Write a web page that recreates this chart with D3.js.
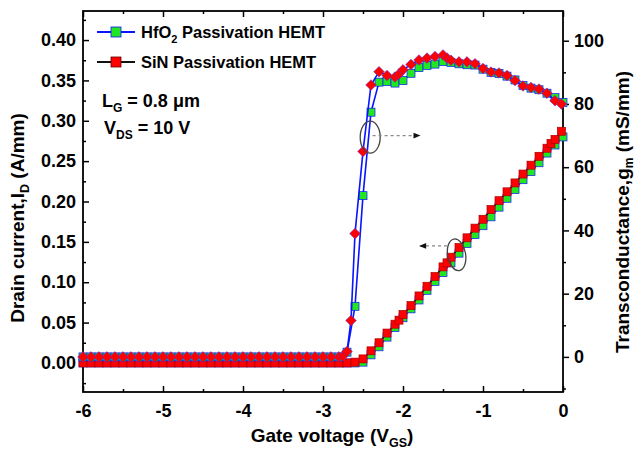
<!DOCTYPE html>
<html><head><meta charset="utf-8">
<script src="https://cdn.jsdelivr.net/npm/d3@7"></script>
<style>
html,body{margin:0;padding:0;background:#fff;}
svg{display:block;font-family:"Liberation Sans",Arial,sans-serif;font-weight:bold;}
</style></head>
<body><svg id="c" width="638" height="450"></svg>
<script>
// ---------- data ----------
const vgsOff = [-6.0,-5.9,-5.8,-5.7,-5.6,-5.5,-5.4,-5.3,-5.2,-5.1,-5.0,-4.9,-4.8,-4.7,-4.6,-4.5,-4.4,-4.3,-4.2,-4.1,-4.0,-3.9,-3.8,-3.7,-3.6,-3.5,-3.4,-3.3,-3.2,-3.1,-3.0,-2.9,-2.8];
const idOff  = [0,0,0,0,0,0,0,0,0,0,0,0,0,0,0,0,0,0,0,0,0,0,0,0,0,0,0,0,0,0,0,0,0];
const gmOff  = [0,0,0,0,0,0,0,0,0,0,0,0,0,0,0,0,0,0,0,0,0,0,0,0,0,0,0,0,0,0,0,0,0];

const vgsIdHfO2 = [-2.7,-2.6,-2.5,-2.4,-2.3,-2.2,-2.1,-2.0,-1.9,-1.8,-1.7,-1.6,-1.5,-1.4,-1.3,-1.2,-1.1,-1.0,-0.9,-0.8,-0.7,-0.6,-0.5,-0.4,-0.3,-0.2,-0.1,0.0];
const idHfO2    = [0.000,0.000,0.001,0.010,0.020,0.032,0.044,0.056,0.067,0.078,0.090,0.101,0.112,0.124,0.136,0.148,0.159,0.170,0.181,0.193,0.204,0.215,0.227,0.237,0.248,0.260,0.270,0.280];

const vgsIdSiN = [-2.7,-2.6,-2.5,-2.4,-2.3,-2.2,-2.1,-2.05,-2.0,-1.9,-1.8,-1.7,-1.6,-1.5,-1.45,-1.4,-1.3,-1.2,-1.1,-1.0,-0.9,-0.8,-0.7,-0.6,-0.5,-0.4,-0.3,-0.2,-0.15,-0.1,-0.02];
const idSiN    = [0.000,0.001,0.005,0.015,0.025,0.037,0.048,0.053,0.060,0.071,0.083,0.095,0.107,0.119,0.124,0.131,0.143,0.155,0.167,0.178,0.190,0.201,0.212,0.223,0.234,0.245,0.256,0.266,0.272,0.277,0.287];

const vgsGmHfO2 = [-2.7,-2.6,-2.5,-2.4,-2.3,-2.2,-2.1,-2.0,-1.9,-1.8,-1.7,-1.6,-1.5,-1.4,-1.3,-1.2,-1.1,-1.0,-0.9,-0.8,-0.7,-0.6,-0.5,-0.4,-0.3,-0.2,-0.1,0.0];
const gmHfO2    = [1.5,16,51,77.4,86.9,87.1,86.6,87.4,89.7,91.5,92.2,92.6,93.4,93.1,92.7,92.4,92.3,91.0,90.0,89.6,88.8,87.6,85.8,85.0,84.5,83.4,82.0,80.5];

const vgsGmSiN = [-2.75,-2.7,-2.65,-2.6,-2.5,-2.4,-2.3,-2.2,-2.1,-2.05,-2.0,-1.9,-1.8,-1.7,-1.6,-1.5,-1.45,-1.4,-1.3,-1.2,-1.1,-1.0,-0.9,-0.8,-0.7,-0.6,-0.5,-0.4,-0.3,-0.2,-0.1,-0.02];
const gmSiN    = [0.3,1.7,11.5,39,65,86,90.2,89.0,88.5,89.5,90.8,92.5,93.9,94.5,95.0,95.5,94.5,93.8,93.3,93.3,92.7,91.2,90.1,89.8,89.0,87.4,85.7,85.2,84.7,83.4,81.0,80.0];

const xTicks = [-6,-5,-4,-3,-2,-1,0];
const xMinor = [-5.5,-4.5,-3.5,-2.5,-1.5,-0.5];
const yLTicks = [0,0.05,0.10,0.15,0.20,0.25,0.30,0.35,0.40];
const yLMinor = [-0.025,0.025,0.075,0.125,0.175,0.225,0.275,0.325,0.375,0.425];
const yRTicks = [0,20,40,60,80,100];
const yRMinor = [-10,10,30,50,70,90];

// ---------- layout ----------
const L=83, R=563, T=11, B=392;
const svg = d3.select("#c");
const x  = d3.scaleLinear().domain([-6,0]).range([L,R]);
const yL = d3.scaleLinear().domain([-0.036,0.436]).range([B,T]);
const yR = d3.scaleLinear().domain([-11.1,109.4]).range([B,T]);

const BLUE="#0a14ff", GREEN="#22e622", RED="#ff0000";

function pairs(xs, ys){ return xs.map((v,i)=>[v, ys[i]]); }
const idHfO2All = pairs(vgsOff, idOff).concat(pairs(vgsIdHfO2, idHfO2));
const idSiNAll  = pairs(vgsOff, idOff).concat(pairs(vgsIdSiN, idSiN));
const gmHfO2All = pairs(vgsOff, gmOff).concat(pairs(vgsGmHfO2, gmHfO2));
const gmSiNAll  = pairs(vgsOff, gmOff).concat(pairs(vgsGmSiN, gmSiN));

// ---------- axes ----------
const fs = "18px";
function styleAxis(g){
  g.select(".domain").remove();
  g.selectAll(".tick line").attr("stroke","#000").attr("stroke-width",1.5);
  g.selectAll("text").attr("font-size",fs).attr("font-weight","bold").attr("fill","#000")
   .attr("font-family","'Liberation Sans',Arial,sans-serif");
}
// bottom
svg.append("g").attr("transform",`translate(0,${B})`)
  .call(d3.axisBottom(x).tickValues(xTicks).tickSize(-6).tickPadding(12).tickFormat(d=>String(d)))
  .call(styleAxis);
svg.append("g").attr("transform",`translate(0,${B})`)
  .call(d3.axisBottom(x).tickValues(xMinor).tickSize(-3).tickFormat(""))
  .call(styleAxis);
// top
svg.append("g").attr("transform",`translate(0,${T})`)
  .call(d3.axisTop(x).tickValues(xTicks).tickSize(-6).tickFormat(""))
  .call(styleAxis);
svg.append("g").attr("transform",`translate(0,${T})`)
  .call(d3.axisTop(x).tickValues(xMinor).tickSize(-3).tickFormat(""))
  .call(styleAxis);
// left
svg.append("g").attr("transform",`translate(${L},0)`)
  .call(d3.axisLeft(yL).tickValues(yLTicks).tickSize(-6).tickPadding(7).tickFormat(d3.format(".2f")))
  .call(styleAxis);
svg.append("g").attr("transform",`translate(${L},0)`)
  .call(d3.axisLeft(yL).tickValues(yLMinor).tickSize(-3).tickFormat(""))
  .call(styleAxis);
// right
svg.append("g").attr("transform",`translate(${R},0)`)
  .call(d3.axisRight(yR).tickValues(yRTicks).tickSize(6).tickPadding(5).tickFormat(d=>String(d)))
  .call(styleAxis);
svg.append("g").attr("transform",`translate(${R},0)`)
  .call(d3.axisRight(yR).tickValues(yRMinor).tickSize(3).tickFormat(""))
  .call(styleAxis);

// frame
svg.append("rect").attr("x",L).attr("y",T).attr("width",R-L).attr("height",B-T)
  .attr("fill","none").attr("stroke","#000").attr("stroke-width",1.8);

// ---------- series ----------
const gPlot = svg.append("g");
function drawLine(data, yS, color){
  gPlot.append("path").datum(data)
    .attr("d", d3.line().x(d=>x(d[0])).y(d=>yS(d[1])))
    .attr("fill","none").attr("stroke",color).attr("stroke-width",1.6);
}
function drawSquares(data, yS, fill, stroke){
  gPlot.append("g").selectAll("rect").data(data).join("rect")
    .attr("x",d=>x(d[0])-4).attr("y",d=>yS(d[1])-4).attr("width",8).attr("height",8)
    .attr("fill",fill).attr("stroke",stroke).attr("stroke-width",0.7);
}
function drawDiamonds(data, yS, fill, stroke){
  gPlot.append("g").selectAll("path").data(data).join("path")
    .attr("d", d3.symbol(d3.symbolSquare, 56)())
    .attr("transform",d=>`translate(${x(d[0])},${yS(d[1])}) rotate(45)`)
    .attr("fill",fill).attr("stroke",stroke).attr("stroke-width",0.6);
}
// Id
drawLine(idHfO2All, yL, BLUE);
drawSquares(idHfO2All, yL, GREEN, BLUE);
drawLine(idSiNAll, yL, "#111");
drawSquares(idSiNAll, yL, RED, "#a00");
// gm
drawLine(gmHfO2All, yR, BLUE);
drawSquares(gmHfO2All, yR, GREEN, BLUE);
drawLine(gmSiNAll, yR, BLUE);
drawDiamonds(gmSiNAll, yR, RED, "#6633cc");

// ---------- annotations (ellipses + arrows) ----------
const defs = svg.append("defs");
defs.append("marker").attr("id","ah").attr("viewBox","0 0 10 10").attr("refX",9).attr("refY",5)
  .attr("markerWidth",9).attr("markerHeight",7).attr("orient","auto-start-reverse")
  .attr("markerUnits","userSpaceOnUse")
  .append("path").attr("d","M0,1 L10,5 L0,9 Z").attr("fill","#111");
const ann = svg.append("g");
ann.append("ellipse").attr("cx",x(-2.41)).attr("cy",yR(69.5)).attr("rx",10).attr("ry",16)
  .attr("fill","none").attr("stroke","#444").attr("stroke-width",1.3);
ann.append("line").attr("x1",x(-2.38)).attr("x2",x(-1.79)).attr("y1",yR(70.0)).attr("y2",yR(70.0))
  .attr("stroke","#888").attr("stroke-width",1.3).attr("stroke-dasharray","3,3").attr("marker-end","url(#ah)");
ann.append("ellipse").attr("cx",x(-1.33)).attr("cy",yL(0.134)).attr("rx",9).attr("ry",16)
  .attr("fill","none").attr("stroke","#444").attr("stroke-width",1.3)
  .attr("transform",`rotate(-10,${x(-1.33)},${yL(0.134)})`);
ann.append("line").attr("x1",x(-1.45)).attr("x2",x(-1.79)).attr("y1",yL(0.145)).attr("y2",yL(0.145))
  .attr("stroke","#888").attr("stroke-width",1.3).attr("stroke-dasharray","3,3").attr("marker-end","url(#ah)");

// ---------- text ----------
function subText(g, parts, attrs){
  const t = g.append("text");
  Object.entries(attrs).forEach(([k,v])=>t.attr(k,v));
  parts.forEach(p=>{
    const s = t.append("tspan").text(p.t);
    if(p.sub){ s.attr("font-size", p.size).attr("dy", p.dy); }
    else if(p.back){ s.attr("dy", p.back); }
  });
  return t;
}
// LG / VDS
subText(svg, [{t:"L"},{t:"G",sub:true,size:"12px",dy:5},{t:" = 0.8 μm",back:-5}],
  {x:102, y:107, "font-size":"18px", fill:"#000"});
subText(svg, [{t:"V"},{t:"DS",sub:true,size:"12px",dy:5},{t:" = 10 V",back:-5}],
  {x:104, y:134, "font-size":"18px", fill:"#000"});

// axis titles
subText(svg, [{t:"Gate voltage (V"},{t:"GS",sub:true,size:"12.5px",dy:5},{t:")",back:-5}],
  {x:(L+R)/2+9, y:442, "font-size":"19px", "text-anchor":"middle", fill:"#000"});
subText(svg, [{t:"Drain current,I"},{t:"D",sub:true,size:"12.5px",dy:5},{t:" (A/mm)",back:-5}],
  {x:0, y:0, "font-size":"19px", "text-anchor":"middle", fill:"#000", transform:"translate(24,218) rotate(-90)"});
subText(svg, [{t:"Transconductance,g"},{t:"m",sub:true,size:"12px",dy:4},{t:" (mS/mm)",back:-4}],
  {x:0, y:0, "font-size":"19px", "text-anchor":"middle", fill:"#000", transform:"translate(629,212) rotate(-90)"});

// legend
const leg = svg.append("g");
const legItems = [
  {parts:[{t:"HfO"},{t:"2",sub:true,size:"11px",dy:5},{t:" Passivation HEMT",back:-5}], line:BLUE, fill:GREEN, stroke:BLUE, y:32},
  {parts:[{t:"SiN Passivation HEMT"}], line:"#111", fill:RED, stroke:"#600", y:62}
];
legItems.forEach(it=>{
  leg.append("line").attr("x1",97).attr("x2",135).attr("y1",it.y).attr("y2",it.y)
    .attr("stroke",it.line).attr("stroke-width",1.8);
  leg.append("rect").attr("x",111).attr("y",it.y-5).attr("width",10).attr("height",10)
    .attr("fill",it.fill).attr("stroke",it.stroke).attr("stroke-width",0.8);
  subText(leg, it.parts, {x:141, y:it.y+6, "font-size":"16.5px", fill:"#000"});
});
</script></body></html>
